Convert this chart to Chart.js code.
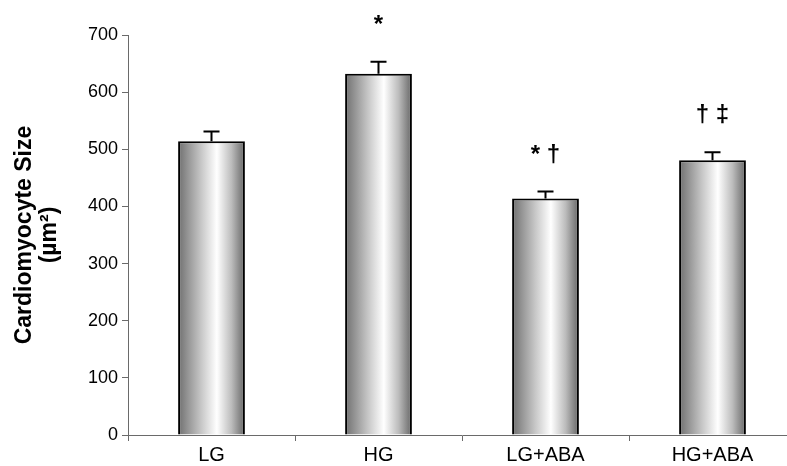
<!DOCTYPE html>
<html>
<head>
<meta charset="utf-8">
<script src="https://cdn.jsdelivr.net/npm/chart.js@4.4.1/dist/chart.umd.min.js"></script>
<style>
  html, body { margin: 0; padding: 0; background: #ffffff; overflow: hidden; }
  #wrap { width: 800px; height: 466px; }
</style>
</head>
<body>
<div id="wrap"><canvas id="c" width="800" height="466"></canvas></div>
<script>
// Cardiomyocyte size per treatment group (mean ± SEM, µm²)
const groups = ['LG', 'HG', 'LG+ABA', 'HG+ABA'];
const meanSize = [514, 632, 414, 481];
const semSize = [17, 21, 12, 14];
// Significance markers drawn above each error bar
const marks = ['', '*', '* †', '† ‡'];
const yTicks = [0, 100, 200, 300, 400, 500, 600, 700];

const FONT = '"Liberation Sans", Arial, sans-serif';

// Cylinder-style horizontal shading for each bar
function barShade(ctx) {
  const chart = ctx.chart;
  const xs = chart.scales.x;
  if (!chart.chartArea || !xs) return '#bbbbbb';
  const cx = xs.getPixelForValue(ctx.dataIndex);
  const w = (xs.width / groups.length) * 0.4;
  const g = chart.ctx.createLinearGradient(cx - w / 2, 0, cx + w / 2, 0);
  g.addColorStop(0.0, '#6f6f6f');
  g.addColorStop(0.12, '#8e8e8e');
  g.addColorStop(0.35, '#c8c8c8');
  g.addColorStop(0.58, '#ffffff');
  g.addColorStop(0.8, '#bcbcbc');
  g.addColorStop(1.0, '#666666');
  return g;
}

// Upper error bars and significance markers
const errorBars = {
  id: 'errorBars',
  afterDatasetsDraw(chart) {
    const meta = chart.getDatasetMeta(0);
    const ys = chart.scales.y;
    const c = chart.ctx;
    c.save();
    meta.data.forEach((bar, i) => {
      const x = bar.x;
      const top = ys.getPixelForValue(meanSize[i]);
      const hi = ys.getPixelForValue(meanSize[i] + semSize[i]);
      c.strokeStyle = '#000';
      c.lineWidth = 2;
      c.beginPath();
      c.moveTo(x, top);
      c.lineTo(x, hi);
      c.moveTo(x - 8, hi);
      c.lineTo(x + 8, hi);
      c.stroke();
      if (marks[i]) {
        c.fillStyle = '#000';
        c.font = 'bold 24px ' + FONT;
        c.textAlign = 'center';
        c.textBaseline = 'alphabetic';
        c.fillText(marks[i], x, hi - 30);
      }
    });
    c.restore();
  }
};

new Chart(document.getElementById('c'), {
  type: 'bar',
  data: {
    labels: groups,
    datasets: [{
      data: meanSize,
      backgroundColor: barShade,
      borderColor: '#000000',
      borderWidth: 2,
      borderSkipped: 'bottom',
      categoryPercentage: 1.0,
      barPercentage: 0.4
    }]
  },
  options: {
    responsive: false,
    devicePixelRatio: 1,
    animation: false,
    layout: { padding: { top: 35, right: 4, bottom: 0, left: 0 } },
    plugins: { legend: { display: false }, tooltip: { enabled: false } },
    scales: {
      x: {
        offset: true,
        grid: { display: true, offset: true, drawOnChartArea: false, tickLength: 6, color: '#6a6a6a', lineWidth: 1 },
        border: { display: true, color: '#6a6a6a', width: 1 },
        ticks: { color: '#000', font: { family: FONT, size: 20 }, padding: 2, maxRotation: 0 },
        afterFit(s) { s.height = 31; }
      },
      y: {
        min: 0,
        max: 700,
        afterBuildTicks(s) { s.ticks = yTicks.map(v => ({ value: v })); },
        grid: { display: true, drawOnChartArea: false, tickLength: 6, color: '#6a6a6a', lineWidth: 1 },
        border: { display: true, color: '#6a6a6a', width: 1 },
        ticks: { color: '#000', font: { family: FONT, size: 18 }, padding: 4 },
        title: {
          display: true,
          text: ['Cardiomyocyte Size', '(µm²)'],
          color: '#000',
          font: { family: FONT, size: 23, weight: 'bold', lineHeight: 1.05 },
          padding: { top: 13, bottom: 0 }
        },
        afterFit(s) { s.width = 128; }
      }
    }
  },
  plugins: [errorBars]
});
</script>
</body>
</html>
